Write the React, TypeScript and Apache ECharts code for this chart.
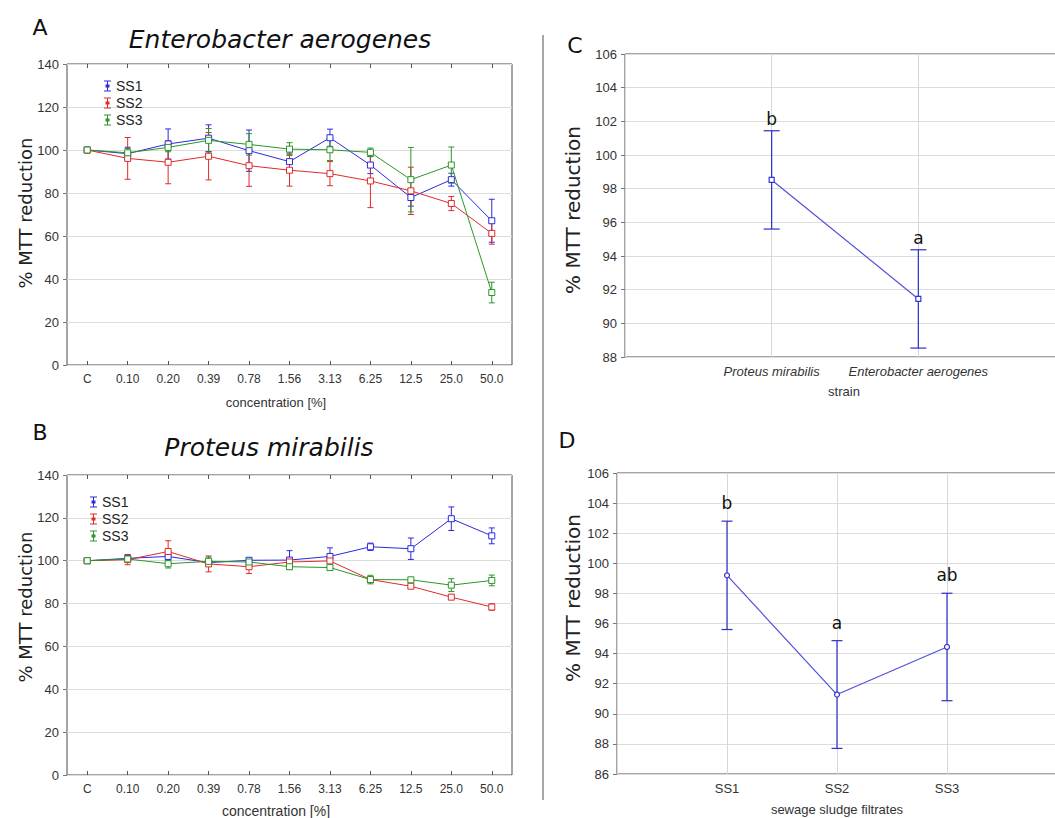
import React, { useEffect, useRef } from "react";
import * as echarts from "echarts";

// ---------- data ----------
const CONCENTRATIONS = ["C", "0.10", "0.20", "0.39", "0.78", "1.56", "3.13", "6.25", "12.5", "25.0", "50.0"];
const FILTRATES = ["SS1", "SS2", "SS3"];
const STRAINS = ["Proteus mirabilis", "Enterobacter aerogenes"];

// Panel A – Enterobacter aerogenes (mean, ± error)
const EA_SS1_MEAN = [100, 98.3, 102.8, 105.5, 99.7, 94.6, 105.7, 93.0, 77.9, 86.2, 67.1];
const EA_SS1_ERR = [0, 3, 7, 6.2, 9.6, 4, 4, 4, 4, 3, 10];
const EA_SS2_MEAN = [100, 96.1, 94.3, 97.1, 92.7, 90.6, 89.0, 85.6, 81.0, 75.1, 61.2];
const EA_SS2_ERR = [0, 9.7, 10, 11, 9.6, 7.4, 5.6, 12.4, 11, 3.3, 5];
const EA_SS3_MEAN = [100, 98.7, 101.2, 104.5, 102.6, 100.4, 100.1, 98.9, 86.2, 93.0, 33.7];
const EA_SS3_ERR = [0, 2, 2, 5.5, 5, 3, 5, 2, 15, 8.4, 4.8];

// Panel B – Proteus mirabilis
const PM_SS1_MEAN = [100, 101.1, 102.0, 99.1, 100.2, 100.3, 102.0, 106.5, 105.6, 119.6, 111.6];
const PM_SS1_ERR = [0, 1, 2, 1.5, 1, 4.4, 4, 1.7, 5, 5.5, 3.7];
const PM_SS2_MEAN = [100, 100.5, 104.3, 98.5, 97.2, 99.4, 99.9, 91.2, 88.1, 83.0, 78.4];
const PM_SS2_ERR = [0, 2.4, 5, 3.7, 3.2, 1, 1, 1, 1, 1, 1.5];
const PM_SS3_MEAN = [100, 100.8, 98.6, 99.7, 99.4, 97.2, 96.8, 91.2, 91.1, 88.6, 90.8];
const PM_SS3_ERR = [0, 1, 2, 2, 1.5, 1, 1, 2, 1, 3, 2.5];

// Panel C – by strain
const STRAIN_MEAN = [98.52, 91.45];
const STRAIN_ERR = [2.92, 2.92];
const STRAIN_LETTERS = ["b", "a"];

// Panel D – by filtrate
const FILTRATE_MEAN = [99.2, 91.28, 94.44];
const FILTRATE_ERR = [3.6, 3.58, 3.57];
const FILTRATE_LETTERS = ["b", "a", "ab"];

const Y_TICKS_AB = { min: 0, max: 140, interval: 20 };
const Y_TICKS_C = { min: 88, max: 106, interval: 2 };
const Y_TICKS_D = { min: 86, max: 106, interval: 2 };

// ---------- styles ----------
const COLORS = ["#2a2ae0", "#e02a2a", "#2a962a"];
const SANS = "Liberation Sans";
const DEJAVU = "DejaVu Sans";
const LEGEND_ICON = "path://M0 0H7V1H4V4H5.5V7H4V10H7V11H0V10H3V7H1.5V4H3V1H0Z";

function errorBar(capHalf: number, color: string, lw: number) {
  return (params: any, api: any) => {
    const x = api.value(0);
    const lo = api.coord([x, api.value(1)]);
    const hi = api.coord([x, api.value(2)]);
    const st = { stroke: color, lineWidth: lw };
    return {
      type: "group",
      children: [
        { type: "line", shape: { x1: lo[0], y1: lo[1], x2: hi[0], y2: hi[1] }, style: st },
        { type: "line", shape: { x1: hi[0] - capHalf, y1: hi[1], x2: hi[0] + capHalf, y2: hi[1] }, style: st },
        { type: "line", shape: { x1: lo[0] - capHalf, y1: lo[1], x2: lo[0] + capHalf, y2: lo[1] }, style: st },
      ],
    };
  };
}

function letterRender(letters: string[], offset: number) {
  return (params: any, api: any) => {
    const p = api.coord([api.value(0), api.value(1)]);
    return {
      type: "text",
      x: p[0],
      y: p[1] - offset,
      style: {
        text: letters[params.dataIndex],
        fontSize: 17,
        fontFamily: DEJAVU,
        fill: "#111",
        align: "center",
        verticalAlign: "middle",
      },
    };
  };
}

function concSeries(xIdx: number, yIdx: number, means: number[][], errs: number[][]) {
  const out: any[] = [];
  means.forEach((mean, s) => {
    const c = COLORS[s];
    out.push({
      type: "custom",
      name: FILTRATES[s] + " err",
      xAxisIndex: xIdx,
      yAxisIndex: yIdx,
      z: 2,
      encode: { x: 0, y: [1, 2] },
      data: mean
        .map((m, i) => [i, m - errs[s][i], m + errs[s][i], errs[s][i]])
        .filter((d) => d[3] > 0),
      renderItem: errorBar(3, c, 1),
    });
  });
  means.forEach((mean, s) => {
    const c = COLORS[s];
    out.push({
      type: "line",
      name: FILTRATES[s],
      xAxisIndex: xIdx,
      yAxisIndex: yIdx,
      z: 3,
      data: mean,
      symbol: "rect",
      symbolSize: 6,
      itemStyle: { color: "#fff", borderColor: c, borderWidth: 1 },
      lineStyle: { color: c, width: 1 },
    });
  });
  return out;
}

function meanSeries(xIdx: number, yIdx: number, means: number[], errs: number[], letters: string[], cap: number, sym: string, offset: number) {
  return [
    {
      type: "custom",
      name: "err" + xIdx,
      xAxisIndex: xIdx,
      yAxisIndex: yIdx,
      z: 2,
      encode: { x: 0, y: [1, 2] },
      data: means.map((m, i) => [i + 1, m - errs[i], m + errs[i]]),
      renderItem: errorBar(cap, "#2e2ec8", 1.2),
    },
    {
      type: "line",
      name: "mean" + xIdx,
      xAxisIndex: xIdx,
      yAxisIndex: yIdx,
      z: 3,
      data: means.map((m, i) => [i + 1, m]),
      symbol: sym,
      symbolSize: 5,
      itemStyle: { color: "#fff", borderColor: "#3535d0", borderWidth: 1.2 },
      lineStyle: { color: "#5050dc", width: 1.2 },
    },
    {
      type: "custom",
      name: "letters" + xIdx,
      xAxisIndex: xIdx,
      yAxisIndex: yIdx,
      z: 4,
      encode: { x: 0, y: 1 },
      data: means.map((m, i) => [i + 1, m + errs[i]]),
      renderItem: letterRender(letters, offset),
    },
  ];
}

const tickLabel = { color: "#333", fontFamily: SANS };

function concAxes(gridIndex: number) {
  return [
    {
      gridIndex,
      type: "category",
      data: CONCENTRATIONS,
      boundaryGap: true,
      axisLine: { show: false },
      axisTick: { show: true, inside: true, alignWithLabel: true, length: 4, lineStyle: { color: "#555" } },
      axisLabel: { ...tickLabel, interval: 0, margin: 8, fontSize: 12 },
      splitLine: { show: false },
    },
    {
      gridIndex,
      type: "category",
      position: "top",
      data: CONCENTRATIONS,
      boundaryGap: true,
      axisLine: { show: false },
      axisTick: { show: true, inside: true, alignWithLabel: true, length: 4, lineStyle: { color: "#555" } },
      axisLabel: { show: false },
      splitLine: { show: false },
    },
  ];
}

function valueAxis(gridIndex: number, t: { min: number; max: number; interval: number }) {
  return {
    gridIndex,
    type: "value",
    min: t.min,
    max: t.max,
    interval: t.interval,
    axisLine: { show: false },
    axisTick: { show: true, length: 4, lineStyle: { color: "#777" } },
    axisLabel: { ...tickLabel, fontSize: 13, margin: 8 },
    splitLine: { show: true, lineStyle: { color: "#dcdcdc", width: 1 } },
  };
}

function catAxis(gridIndex: number, cats: string[], italic: boolean) {
  return {
    gridIndex,
    type: "category",
    data: ["", ...cats, ""],
    boundaryGap: false,
    axisLine: { show: false },
    axisTick: { show: false },
    axisLabel: { ...tickLabel, interval: 0, margin: 8, fontSize: 13, fontStyle: italic ? "italic" : "normal" },
    splitLine: { show: true, interval: 0, lineStyle: { color: "#d8d8d8", width: 1 } },
  };
}

function legend(left: number, top: number) {
  return {
    left,
    top,
    orient: "vertical",
    itemGap: 3,
    itemWidth: 7,
    itemHeight: 11,
    icon: LEGEND_ICON,
    selectedMode: false,
    textStyle: { fontSize: 14, color: "#222", fontFamily: SANS },
    itemStyle: { borderWidth: 0 },
    data: FILTRATES.map((n, i) => ({ name: n, itemStyle: { color: COLORS[i], borderWidth: 0 } })),
  };
}

function txt(text: string, x: number, y: number, size: number, extra: any = {}) {
  return {
    type: "text",
    x,
    y,
    rotation: extra.rotation || 0,
    style: {
      text,
      fontSize: size,
      fontFamily: extra.family || DEJAVU,
      fontStyle: extra.italic ? "italic" : "normal",
      fill: extra.fill || "#111",
      align: "center",
      verticalAlign: "middle",
    },
  };
}

const gridStyle = { show: true, borderColor: "#4a4a4a", borderWidth: 1 };

const option: any = {
  animation: false,
  backgroundColor: "#fff",
  textStyle: { fontFamily: SANS },
  grid: [
    { left: 67, top: 64, width: 445, height: 301, ...gridStyle },
    { left: 67, top: 475, width: 445, height: 300, ...gridStyle },
    { left: 625, top: 54, width: 440, height: 303, ...gridStyle },
    { left: 617, top: 473, width: 440, height: 301, ...gridStyle },
  ],
  xAxis: [...concAxes(0), ...concAxes(1), catAxis(2, STRAINS, true), catAxis(3, FILTRATES, false)],
  yAxis: [valueAxis(0, Y_TICKS_AB), valueAxis(1, Y_TICKS_AB), valueAxis(2, Y_TICKS_C), valueAxis(3, Y_TICKS_D)],
  legend: [legend(99, 74), legend(85, 490)],
  series: [
    ...concSeries(0, 0, [EA_SS1_MEAN, EA_SS2_MEAN, EA_SS3_MEAN], [EA_SS1_ERR, EA_SS2_ERR, EA_SS3_ERR]),
    ...concSeries(2, 1, [PM_SS1_MEAN, PM_SS2_MEAN, PM_SS3_MEAN], [PM_SS1_ERR, PM_SS2_ERR, PM_SS3_ERR]),
    ...meanSeries(4, 2, STRAIN_MEAN, STRAIN_ERR, STRAIN_LETTERS, 8, "rect", 12),
    ...meanSeries(5, 3, FILTRATE_MEAN, FILTRATE_ERR, FILTRATE_LETTERS, 5.5, "circle", 18),
  ],
  graphic: [
    { type: "line", shape: { x1: 543, y1: 35, x2: 543, y2: 800 }, style: { stroke: "#8a8a8a", lineWidth: 1.5 } },
    txt("A", 40, 27, 22),
    txt("B", 40, 432, 22),
    txt("C", 575, 45, 22),
    txt("D", 567, 440, 22),
    txt("Enterobacter aerogenes", 280, 39, 25, { italic: true }),
    txt("Proteus mirabilis", 269, 447, 25, { italic: true }),
    txt("% MTT reduction", 25, 213, 18, { rotation: Math.PI / 2, fill: "#222" }),
    txt("% MTT reduction", 25, 607, 18, { rotation: Math.PI / 2, fill: "#222" }),
    txt("% MTT reduction", 573, 210, 20, { rotation: Math.PI / 2, fill: "#222" }),
    txt("% MTT reduction", 573, 598, 20, { rotation: Math.PI / 2, fill: "#222" }),
    txt("concentration [%]", 276, 402, 13, { family: SANS, fill: "#333" }),
    txt("concentration [%]", 276, 811, 14, { family: SANS, fill: "#333" }),
    txt("strain", 844, 391, 13, { family: SANS, fill: "#333" }),
    txt("sewage sludge filtrates", 837, 809, 13, { family: SANS, fill: "#333" }),
  ],
};

export default function App() {
  const ref = useRef<HTMLDivElement>(null);
  useEffect(() => {
    if (!ref.current) return;
    const chart = echarts.init(ref.current, null, { renderer: "svg" });
    chart.setOption(option);
    return () => chart.dispose();
  }, []);
  return (
    <div style={{ position: "absolute", left: 0, top: 0, width: 1055, height: 818, overflow: "hidden", background: "#fff" }}>
      <div ref={ref} style={{ width: 1090, height: 818 }} />
    </div>
  );
}
